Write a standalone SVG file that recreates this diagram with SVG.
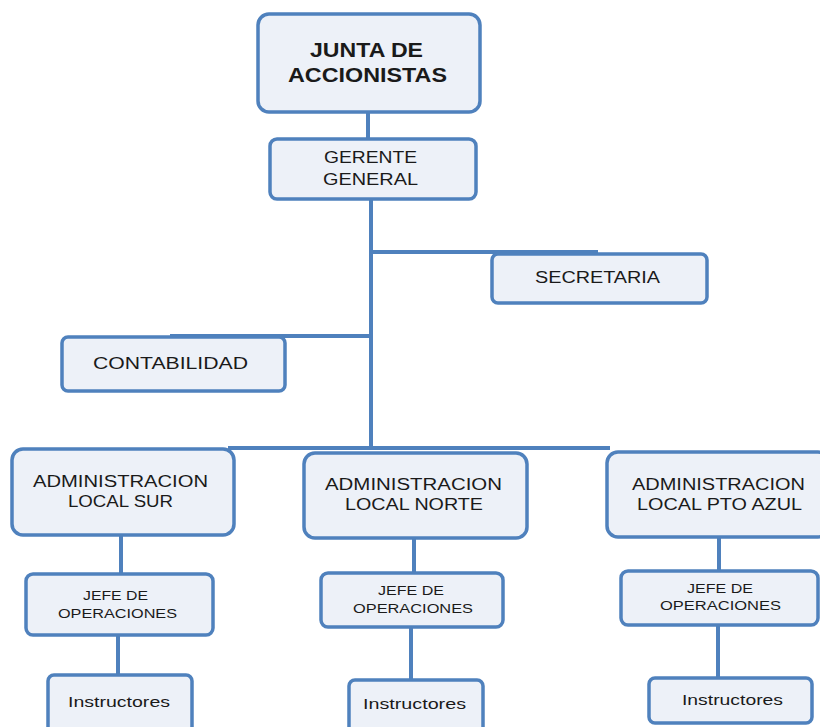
<svg xmlns="http://www.w3.org/2000/svg" width="820" height="727" viewBox="0 0 820 727">
  <style>
    .box { fill: #edf1f8; stroke: #4f81bd; stroke-width: 3.5; }
    .wire { fill: none; stroke: #4f81bd; stroke-width: 4; }
    text { font-family: "Liberation Sans", Arial, sans-serif; fill: #1a1a1a; }
    .t16 { font-size: 16px; }
    .t13 { font-size: 12.5px; }
    .t14 { font-size: 14px; }
    .title { font-size: 20px; font-weight: bold; }
  </style>
  <rect width="820" height="727" fill="#ffffff"/>

  <g id="connectors">
    <line class="wire" x1="368" y1="112" x2="368" y2="139"/>
    <line class="wire" x1="371" y1="199" x2="371" y2="449"/>
    <line class="wire" x1="371" y1="252" x2="598" y2="252"/>
    <line class="wire" x1="170" y1="336" x2="371" y2="336"/>
    <line class="wire" x1="228" y1="448" x2="610" y2="448"/>
    <line class="wire" x1="121" y1="535" x2="121" y2="574"/>
    <line class="wire" x1="118" y1="635" x2="118" y2="675"/>
    <line class="wire" x1="414" y1="538" x2="414" y2="573"/>
    <line class="wire" x1="411" y1="627" x2="411" y2="680"/>
    <line class="wire" x1="719" y1="537" x2="719" y2="571"/>
    <line class="wire" x1="718" y1="625" x2="718" y2="678"/>
  </g>

  <g id="junta">
    <rect class="box" x="258" y="14" width="222" height="98" rx="11"/>
    <text class="title" x="310" y="57" textLength="113" lengthAdjust="spacingAndGlyphs">JUNTA DE</text>
    <text class="title" x="288" y="82" textLength="159" lengthAdjust="spacingAndGlyphs">ACCIONISTAS</text>
  </g>

  <g id="gerente">
    <rect class="box" x="270" y="139" width="206" height="60" rx="7"/>
    <text class="t16" x="324" y="163" textLength="93" lengthAdjust="spacingAndGlyphs">GERENTE</text>
    <text class="t16" x="323" y="185" textLength="95" lengthAdjust="spacingAndGlyphs">GENERAL</text>
  </g>

  <g id="secretaria">
    <rect class="box" x="492" y="254" width="215" height="49" rx="6"/>
    <text class="t16" x="535" y="283" textLength="125" lengthAdjust="spacingAndGlyphs">SECRETARIA</text>
  </g>

  <g id="contabilidad">
    <rect class="box" x="62" y="337" width="223" height="54" rx="6"/>
    <text class="t16" x="93" y="369" textLength="155" lengthAdjust="spacingAndGlyphs">CONTABILIDAD</text>
  </g>

  <g id="admin-sur">
    <rect class="box" x="12" y="449" width="222" height="86" rx="11"/>
    <text class="t16" x="33" y="487" textLength="175" lengthAdjust="spacingAndGlyphs">ADMINISTRACION</text>
    <text class="t16" x="68" y="507" textLength="105" lengthAdjust="spacingAndGlyphs">LOCAL SUR</text>
  </g>

  <g id="jefe-sur">
    <rect class="box" x="26" y="574" width="187" height="61" rx="7"/>
    <text class="t13" x="83" y="600" textLength="65" lengthAdjust="spacingAndGlyphs">JEFE DE</text>
    <text class="t13" x="58" y="618" textLength="119" lengthAdjust="spacingAndGlyphs">OPERACIONES</text>
  </g>

  <g id="instructores-sur">
    <rect class="box" x="48" y="675" width="144" height="60" rx="6"/>
    <text class="t14" x="68" y="707" textLength="102" lengthAdjust="spacingAndGlyphs">Instructores</text>
  </g>

  <g id="admin-norte">
    <rect class="box" x="304" y="453" width="223" height="85" rx="11"/>
    <text class="t16" x="325" y="490" textLength="177" lengthAdjust="spacingAndGlyphs">ADMINISTRACION</text>
    <text class="t16" x="345" y="510" textLength="138" lengthAdjust="spacingAndGlyphs">LOCAL NORTE</text>
  </g>

  <g id="jefe-norte">
    <rect class="box" x="321" y="573" width="182" height="54" rx="7"/>
    <text class="t13" x="378" y="595" textLength="66" lengthAdjust="spacingAndGlyphs">JEFE DE</text>
    <text class="t13" x="353" y="613" textLength="120" lengthAdjust="spacingAndGlyphs">OPERACIONES</text>
  </g>

  <g id="instructores-norte">
    <rect class="box" x="349" y="680" width="134" height="55" rx="6"/>
    <text class="t14" x="363" y="709" textLength="103" lengthAdjust="spacingAndGlyphs">Instructores</text>
  </g>

  <g id="admin-pto-azul">
    <rect class="box" x="607" y="452" width="222" height="85" rx="11"/>
    <text class="t16" x="632" y="490" textLength="173" lengthAdjust="spacingAndGlyphs">ADMINISTRACION</text>
    <text class="t16" x="637" y="510" textLength="165" lengthAdjust="spacingAndGlyphs">LOCAL PTO AZUL</text>
  </g>

  <g id="jefe-pto-azul">
    <rect class="box" x="621" y="571" width="197" height="54" rx="7"/>
    <text class="t13" x="687" y="593" textLength="66" lengthAdjust="spacingAndGlyphs">JEFE DE</text>
    <text class="t13" x="660" y="610" textLength="121" lengthAdjust="spacingAndGlyphs">OPERACIONES</text>
  </g>

  <g id="instructores-pto-azul">
    <rect class="box" x="649" y="678" width="163" height="45" rx="6"/>
    <text class="t14" x="682" y="705" textLength="101" lengthAdjust="spacingAndGlyphs">Instructores</text>
  </g>
</svg>
